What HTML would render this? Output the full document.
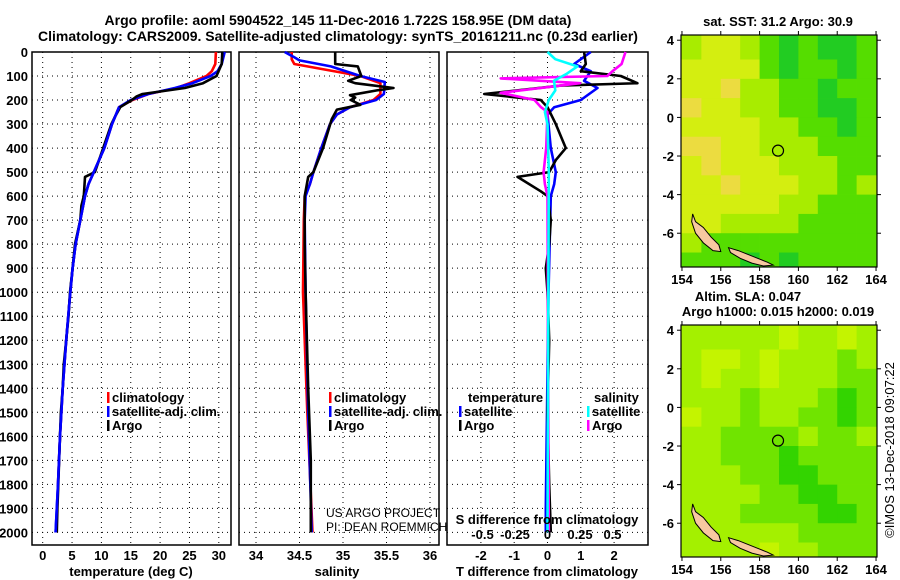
<!DOCTYPE html>
<html><head><meta charset="utf-8"><title>Argo profile</title>
<style>
html,body{margin:0;padding:0;background:#fff;}
svg{display:block;font-family:"Liberation Sans",sans-serif;}
.t{font-weight:bold;font-size:13px;fill:#000;}
.h{font-weight:bold;font-size:14px;fill:#000;}
.n{font-weight:normal;font-size:12px;fill:#000;}
</style></head>
<body>
<svg id="c" width="900" height="580" viewBox="0 0 900 580" xmlns="http://www.w3.org/2000/svg">
<text class="h" x="338" y="25" text-anchor="middle">Argo profile: aoml 5904522_145 11-Dec-2016 1.722S 158.95E (DM data)</text>
<text class="h" x="338" y="41" text-anchor="middle">Climatology: CARS2009. Satellite-adjusted climatology: synTS_20161211.nc (0.23d earlier)</text>
<g id="g"></g>
</svg>
<script>
// ---------- data ----------
var depthTicks=[0,100,200,300,400,500,600,700,800,900,1000,1100,1200,1300,1400,1500,1600,1700,1800,1900,2000];
var tempTicks=[0,5,10,15,20,25,30];
var salTicks=[34,34.5,35,35.5,36];
var tdTicks=[-2,-1,0,1,2];
var sdTicks=[-0.5,-0.25,0,0.25,0.5];
var sdTickLabels=["-0.5","-0.25","0","0.25","0.5"];
var lonTicks=[154,156,158,160,162,164];
var latTicks=[4,2,0,-2,-4,-6];

var tArgoDepth=[0,50,100,130,150,175,185,200,230,270,300,400,500,520,600,640,700,800,900,1000,1100,1200,1300,1400,1500,1600,1700,1800,1900,2000];
var tArgoVal=[30.6,30.5,29.6,27.3,24.2,17,16,15.2,13.2,12.3,11.7,10.3,8.9,7.2,7.0,6.6,6.4,5.5,5.1,4.65,4.4,4.0,3.6,3.4,3.1,2.95,2.8,2.65,2.5,2.4];
var tClimDepth=[0,50,80,100,130,150,175,200,230,300,400,500,550,600,700,800,900,1000,1200,1400,1600,1800,2000];
var tClimVal=[29.5,29.4,28.8,27.9,25,22.8,18,15.3,13,11.8,10.5,8.7,7.8,7.2,6.4,5.6,5.1,4.7,4.0,3.4,2.95,2.6,2.3];
var tSatDepth=[0,50,80,100,130,150,175,200,230,300,400,500,550,600,700,800,900,1000,1200,1400,1600,1800,2000];
var tSatVal=[31.0,30.5,29.8,28.6,25.5,22.5,18,15,13,11.8,10.5,8.7,7.8,7.2,6.4,5.6,5.1,4.7,4.0,3.4,2.95,2.6,2.2];

var sArgoDepth=[0,50,60,100,120,130,150,160,180,190,200,220,240,280,400,500,520,600,800,1000,1400,1700,2000];
var sArgoVal=[34.91,34.91,35.17,35.21,35.06,35.14,35.58,35.39,35.08,35.14,35.09,35.2,34.93,34.87,34.77,34.66,34.6,34.56,34.56,34.57,34.6,34.63,34.63];
var sClimDepth=[0,30,50,100,130,175,200,230,260,300,400,500,550,600,700,1000,1500,2000];
var sClimVal=[34.41,34.41,34.44,35.2,35.43,35.43,35.35,35.08,34.93,34.85,34.75,34.66,34.62,34.56,34.55,34.54,34.59,34.65];
var sSatDepth=[0,20,35,60,100,125,175,200,230,260,300,400,500,550,600,700,1000,1500,2000];
var sSatVal=[34.33,34.43,34.5,34.86,35.2,35.48,35.47,35.38,35.08,34.93,34.85,34.75,34.66,34.62,34.57,34.56,34.57,34.6,34.64];

var dTArgoDepth=[0,50,80,100,130,140,175,200,230,300,350,400,450,500,520,580,600,700,800,900,1000,1200,1500,1800,2000];
var dTArgoVal=[1.1,1.15,1.0,2.2,2.7,0.4,-1.9,-0.2,0,0.25,0.4,0.55,0.25,0.05,-0.9,-0.2,0,0.1,0.05,-0.05,0,0.05,0,0.05,0.1];
var dTSatDepth=[0,30,50,80,120,150,200,230,260,400,500,550,600,1000,1900,2000];
var dTSatVal=[1.3,1.0,0.8,1.3,1.1,1.5,1.0,0.2,0,0.1,0.25,0.2,0.1,0.03,-0.05,-0.05];
var dSArgoDepth=[0,50,80,100,110,130,170,200,230,250,400,500,550,600,2000];
var dSArgoVal=[0.6,0.57,0.5,0.46,-0.36,0.25,-0.36,-0.1,-0.05,0,-0.01,-0.03,-0.02,0,0.01];
var dSSatDepth=[0,30,60,90,120,160,200,250,300,500,2000];
var dSSatVal=[0,0.06,0.23,0.15,0.05,0.06,0.01,-0.02,0,0.01,0];

// map grids: rows lat 4..-8 (1 deg), cols lon 154..164 (1 deg)
var sstGrid=[
[2,3,3,2,1,0,1,0,0,1],
[3,3,3,3,1,0,1,1,0,1],
[3,3,4,2,2,1,1,0,1,1],
[4,3,3,2,2,1,1,0,0,1],
[3,3,3,3,2,2,1,1,0,1],
[4,4,3,3,2,2,2,1,1,1],
[3,4,3,3,3,2,2,2,1,1],
[3,3,4,3,3,3,2,2,1,2],
[3,3,3,3,3,2,2,1,1,1],
[3,3,2,2,2,2,1,1,1,1],
[2,1,1,1,1,1,1,1,1,1],
[1,1,1,0,1,0,1,1,1,1]];
var slaGrid=[
[2,2,2,2,2,3,2,2,3,2],
[2,3,3,2,3,2,2,2,1,2],
[2,3,2,2,3,2,2,2,1,1],
[2,2,2,1,2,2,2,1,0,1],
[3,2,2,1,2,2,1,1,0,1],
[2,2,1,1,1,1,2,1,1,2],
[2,2,1,1,1,0,1,1,1,1],
[2,2,2,1,1,0,0,1,1,1],
[2,2,2,2,1,1,0,0,1,1],
[2,2,2,1,1,1,1,0,0,1],
[2,2,2,2,2,2,1,1,1,1],
[2,2,2,2,3,2,2,1,1,1]];
var floatLon=158.95, floatLat=-1.722;
var island1Lon=[154.55,154.7,155.1,155.5,155.9,156.0,155.6,155.1,154.7,154.5];
var island1Lat=[-5.0,-5.4,-5.7,-6.2,-6.6,-6.95,-6.9,-6.5,-6.0,-5.4];
var island2Lon=[156.4,156.9,157.4,157.9,158.4,158.7,158.2,157.6,157.0,156.5];
var island2Lat=[-6.75,-6.9,-7.1,-7.3,-7.5,-7.65,-7.7,-7.55,-7.3,-7.0];

// ---------- helpers ----------
var NS="http://www.w3.org/2000/svg", G=document.getElementById('g');
function el(tag,attrs,parent){var e=document.createElementNS(NS,tag);for(var k in attrs)e.setAttribute(k,attrs[k]);(parent||G).appendChild(e);return e;}
function txt(x,y,s,cls,anchor,parent){var e=el('text',{x:x,y:y,'class':cls||'t','text-anchor':anchor||'middle'},parent);e.textContent=s;return e;}
var top0=52, pxPerDbar=0.2402, plotBottom=545;
function yD(d){return top0+d*pxPerDbar;}
function xT(t){return 42.7+t*5.87;}
function xS(s){return 256+(s-34)*87;}
function xDT(t){return 547.5+t*33.3;}
function xDS(s){return 547.5+s*130;}
function series(ds,vs,xf,color,name){
  var pts=ds.map(function(d,i){return xf(vs[i]).toFixed(1)+','+yD(d).toFixed(1);}).join(' ');
  var p=el('polyline',{points:pts,fill:'none',stroke:color,'stroke-width':2.6,'stroke-linejoin':'round'});
  
  
}
function panel(x0,x1,ticks,xf,labels,name){
  var g=el('g',{});
  
  
  depthTicks.forEach(function(d){el('line',{x1:x0,x2:x1,y1:yD(d),y2:yD(d),stroke:'#000','stroke-width':1,'stroke-dasharray':'1,4'},g);});
  ticks.forEach(function(t,i){var x=xf(t);el('line',{x1:x,x2:x,y1:top0,y2:plotBottom,stroke:'#000','stroke-width':1,'stroke-dasharray':'1,4'},g);
    if(labels) txt(x,560,labels[i],'t','middle',g);});
  el('rect',{x:x0,y:top0,width:x1-x0,height:plotBottom-top0,fill:'none',stroke:'#000','stroke-width':1.5},g);
  return g;
}
// ---------- panels ----------
var p1=panel(32,231,tempTicks,xT,tempTicks.map(String),'temperature-panel');
depthTicks.forEach(function(d){var t=txt(28,yD(d)+5,String(d),'t','end');});
txt(131,576,'temperature (deg C)');
series(tClimDepth,tClimVal,xT,'#ff0000','temp-climatology-line');
series(tSatDepth,tSatVal,xT,'#0000ff','temp-satellite-line');
series(tArgoDepth,tArgoVal,xT,'#000000','temp-argo-line');
series(tSatDepth.slice(8),tSatVal.slice(8),xT,'#0000ff','temp-satellite-line-deep');

var p2=panel(239,439,salTicks,xS,["34","34.5","35","35.5","36"],'salinity-panel');
txt(337,576,'salinity');
series(sClimDepth,sClimVal,xS,'#ff0000','sal-climatology-line');
series(sSatDepth,sSatVal,xS,'#0000ff','sal-satellite-line');
series(sArgoDepth,sArgoVal,xS,'#000000','sal-argo-line');

var p3=panel(447,648,tdTicks,xDT,["-2","-1","0","1","2"],'difference-panel');
txt(547,576,'T difference from climatology');
series(dTSatDepth,dTSatVal,xDT,'#0000ff','tdiff-satellite-line');
series(dTArgoDepth,dTArgoVal,xDT,'#000000','tdiff-argo-line');
series(dSArgoDepth,dSArgoVal,xDS,'#ff00ff','sdiff-argo-line');
series(dSSatDepth,dSSatVal,xDS,'#00ffff','sdiff-satellite-line');
txt(547,524,'S difference from climatology');
sdTicks.forEach(function(s,i){txt(xDS(s),539,sdTickLabels[i]);});

// legends
function legendItem(x,y,color,label,name){
  var g=el('g',{});
  
  
  el('rect',{x:x,y:y-10,width:2.5,height:11,fill:color},g);
  txt(x+5,y,label,'t','start',g);
}
legendItem(107,402,'#ff0000','climatology','legend-temp-climatology');
legendItem(107,416,'#0000ff','satellite-adj. clim.','legend-temp-satellite');
legendItem(107,430,'#000000','Argo','legend-temp-argo');
legendItem(329,402,'#ff0000','climatology','legend-sal-climatology');
legendItem(329,416,'#0000ff','satellite-adj. clim.','legend-sal-satellite');
legendItem(329,430,'#000000','Argo','legend-sal-argo');
txt(468,402,'temperature','t','start');
legendItem(459,416,'#0000ff','satellite','legend-tdiff-satellite');
legendItem(459,430,'#000000','Argo','legend-tdiff-argo');
txt(594,402,'salinity','t','start');
legendItem(587,416,'#00ffff','satellite','legend-sdiff-satellite');
legendItem(587,430,'#ff00ff','Argo','legend-sdiff-argo');
txt(326,517,'US ARGO PROJECT','n','start');
txt(326,531,'PI: DEAN ROEMMICH','n','start');

// ---------- maps ----------
var mapX0=681,mapX1=877,lonMin=153.95,lonMax=164.05;
function mx(lon){return mapX0+(lon-lonMin)*(mapX1-mapX0)/(lonMax-lonMin);}
var sstColors=['#22cc22','#55dd00','#a8ec00','#d4ee10','#ecdc40'];
var slaColors=['#33d400','#70e400','#a4f000','#c4f400'];
function map(top,bot,grid,colors,name,labelY){
  var latMax=4.27, latMin=-7.75;
  function my(lat){return top+(latMax-lat)*(bot-top)/(latMax-latMin);}
  var g=el('g',{});
  
  
  el('rect',{x:mapX0,y:top,width:mapX1-mapX0,height:bot-top,fill:colors[2]},g);
  grid.forEach(function(row,r){row.forEach(function(v,c){
    var x0=mx(154+c),x1=mx(155+c),y0=my(4-r),y1=my(3-r);
    if(c===0)x0=mapX0; if(c===9)x1=mapX1; if(r===0)y0=top; if(r===11)y1=bot;
    el('rect',{x:x0,y:y0,width:x1-x0+0.3,height:y1-y0+0.3,fill:colors[v]},g);});});
  var pts1=island1Lon.map(function(l,i){return mx(l)+','+my(island1Lat[i]);}).join(' ');
  var pts2=island2Lon.map(function(l,i){return mx(l)+','+my(island2Lat[i]);}).join(' ');
  el('polygon',{points:pts1,fill:'#f8c8a0',stroke:'#000','stroke-width':1},g);
  el('polygon',{points:pts2,fill:'#f8c8a0',stroke:'#000','stroke-width':1},g);
  el('circle',{cx:mx(floatLon),cy:my(floatLat),r:5.5,fill:'none',stroke:'#000','stroke-width':1.2},g);
  el('rect',{x:mapX0,y:top,width:mapX1-mapX0,height:bot-top,fill:'none',stroke:'#000','stroke-width':1.2},g);
  lonTicks.forEach(function(l){var x=mx(l);el('line',{x1:x,x2:x,y1:bot,y2:bot+4,stroke:'#000'},g);el('line',{x1:x,x2:x,y1:top,y2:top-4,stroke:'#000'},g);txt(x,labelY,String(l),'t','middle',g);});
  latTicks.forEach(function(l){var y=my(l);el('line',{x1:mapX0-4,x2:mapX0,y1:y,y2:y,stroke:'#000'},g);el('line',{x1:mapX1,x2:mapX1+4,y1:y,y2:y,stroke:'#000'},g);txt(674,y+5,String(l),'t','end',g);});
}
map(35,267,sstGrid,sstColors,'sst-map',284);
map(325,557,slaGrid,slaColors,'sla-map',574);
txt(778,26,'sat. SST: 31.2 Argo: 30.9');
txt(748,301,'Altim. SLA: 0.047');
txt(778,316,'Argo h1000: 0.015 h2000: 0.019');
var cr=txt(0,0,'©IMOS 13-Dec-2018 09:07:22','n','middle');
cr.setAttribute('transform','translate(894,450) rotate(-90)');
cr.setAttribute('style','font-size:13px');


</script>
</body></html>
